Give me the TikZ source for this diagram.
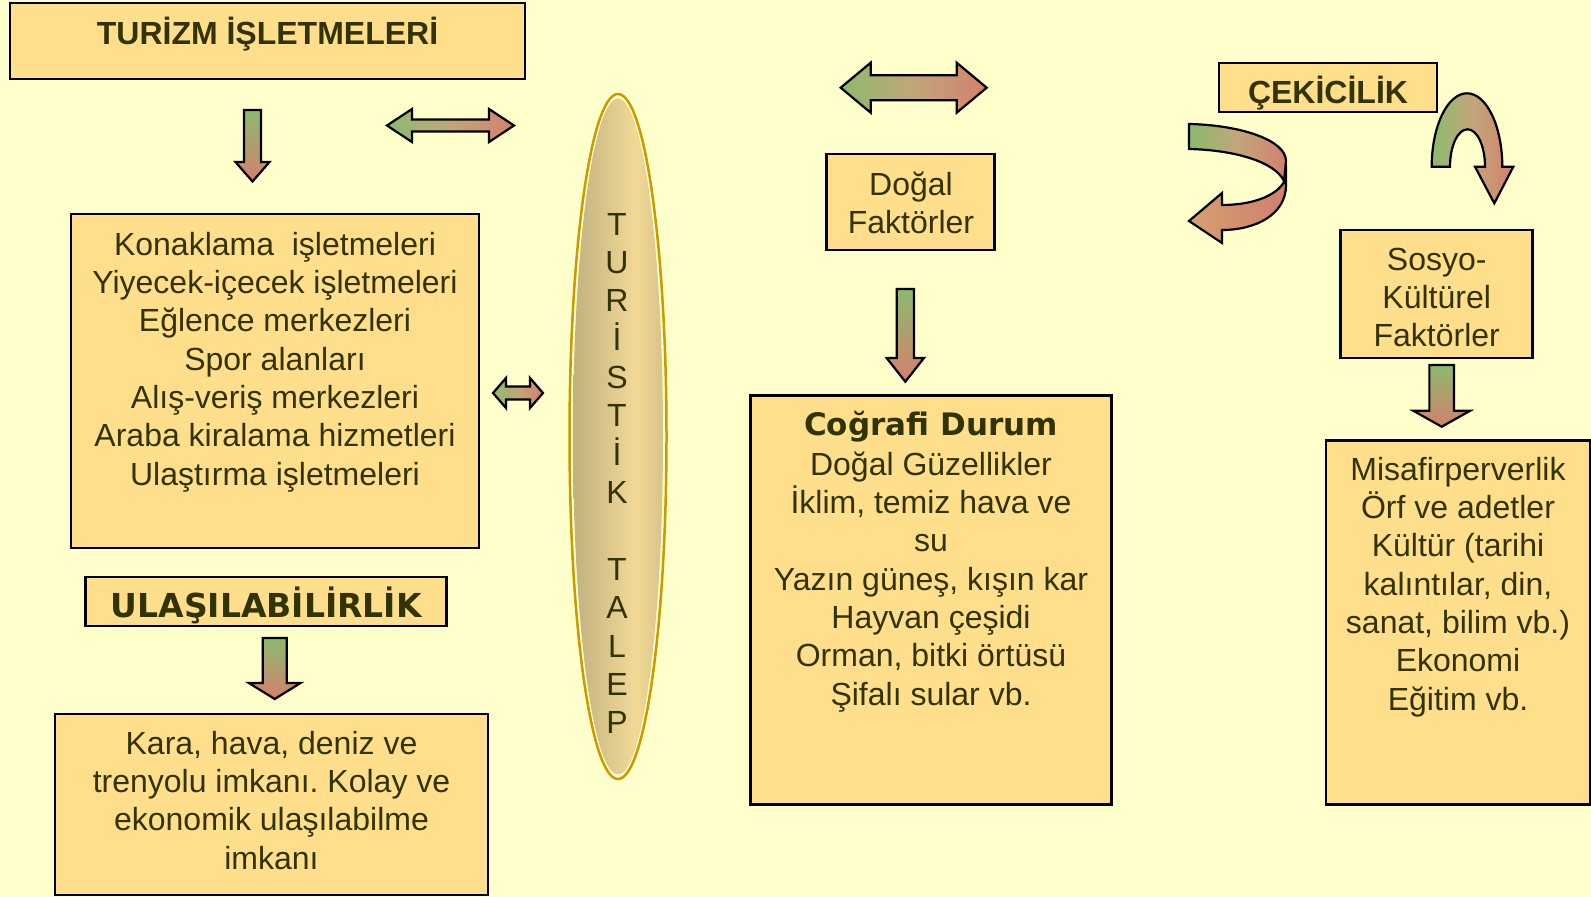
\documentclass[tikz,border=0pt]{standalone}
\usepackage{fontspec}
\setmainfont{Liberation Sans}
\newfontfamily\djv{DejaVu Sans}
\definecolor{bgc}{HTML}{FFFFCC}
\definecolor{boxfill}{HTML}{FFDE8C}
\definecolor{txtc}{HTML}{333300}
\definecolor{goldc}{HTML}{CC9900}
\definecolor{agreen}{HTML}{8CBA6E}
\definecolor{amid}{HTML}{C2A679}
\definecolor{asalmon}{HTML}{D4806E}
\definecolor{lsalA}{HTML}{D6A072}
\definecolor{lsalB}{HTML}{CF806E}
\definecolor{ellD}{HTML}{A89E76}
\definecolor{ellL}{HTML}{F2D995}
\definecolor{ellR}{HTML}{B8A87A}
\pgfdeclarehorizontalshading{ellsh}{100bp}{color(0bp)=(ellD); color(8bp)=(ellD); color(60bp)=(ellL); color(92bp)=(ellR); color(100bp)=(ellR)}
\newcommand\fstrut{\rule{0pt}{30pt}}
\newcommand\DownArr[6]{% cx, top, tip, shaft w, head w, head len
  \shadedraw[blockarr, top color=agreen, bottom color=asalmon]
  ({#1-#4/2},#2) -- ({#1+#4/2},#2) -- ({#1+#4/2},{#3-#6}) -- ({#1+#5/2},{#3-#6}) -- (#1,#3)
  -- ({#1-#5/2},{#3-#6}) -- ({#1-#4/2},{#3-#6}) -- cycle;}
\newcommand\DblArr[6]{% x1, x2, cy, shaft w, head w, head len
  \shadedraw[blockarr, left color=agreen, right color=asalmon, middle color=amid]
  (#1,#3) -- ({#1+#6},{#3-#5/2}) -- ({#1+#6},{#3-#4/2}) -- ({#2-#6},{#3-#4/2}) -- ({#2-#6},{#3-#5/2})
  -- (#2,#3) -- ({#2-#6},{#3+#5/2}) -- ({#2-#6},{#3+#4/2}) -- ({#1+#6},{#3+#4/2}) -- ({#1+#6},{#3+#5/2}) -- cycle;}
\frenchspacing
\begin{document}
\begin{tikzpicture}[x=1pt,y=-1pt,
  box/.style={draw=black, line width=2.5pt, fill=boxfill, inner sep=0pt, outer sep=0pt, anchor=north west},
  txt/.style={anchor=north, inner sep=0pt, align=center, text=txtc, font=\fontsize{32}{38.35}\selectfont\frenchspacing},
  ttl/.style={txt, font=\fontsize{32}{38.35}\selectfont\bfseries},
  ttlv/.style={txt, font=\djv\fontsize{33}{38.35}\selectfont\bfseries},
  blockarr/.style={draw=black, line width=2.2pt, line join=miter}]
\useasboundingbox (0,0) rectangle (1591,897);
\fill[bgc] (0,0) rectangle (1591,897);

% boxes
\node[box, minimum width=515pt, minimum height=76pt] (tbox) at (10,3) {};
\node[box, minimum width=408pt, minimum height=334pt] (lbox) at (71,214) {};
\node[box, minimum width=361pt, minimum height=49pt] (ubox) at (85.7,577) {};
\node[box, minimum width=433pt, minimum height=181pt] (kbox) at (55,714) {};
\node[box, minimum width=168pt, minimum height=96pt] (dbox) at (826.7,154) {};
\node[box, minimum width=361pt, minimum height=409pt] (cbox) at (750.7,395.7) {};
\node[box, minimum width=218pt, minimum height=49pt] (ekbox) at (1219,63) {};
\node[box, minimum width=192pt, minimum height=128pt] (sbox) at (1340.7,230) {};
\node[box, minimum width=264pt, minimum height=364pt] (mbox) at (1326,440.7) {};

% ellipse
\draw[goldc, line width=2.5pt] (618,436.5) ellipse [x radius=48.5, y radius=342.5];
\shade[shading=ellsh] (618,436.5) ellipse [x radius=45, y radius=338];

% texts
\node[ttl] (ttxt) at (267.5,14) {\fstrut TURİZM İŞLETMELERİ};
\node[txt] (ltxt) at (275,225) {\fstrut Konaklama\ \ işletmeleri\\Yiyecek-içecek işletmeleri\\Eğlence merkezleri\\Spor alanları\\Alış-veriş merkezleri\\Araba kiralama hizmetleri\\Ulaştırma işletmeleri};
\node[ttlv] (utxt) at (266.2,586.7) {\fstrut ULAŞILABİLİRLİK};
\node[txt] (ktxt) at (271.5,724) {\fstrut Kara, hava, deniz ve\\trenyolu imkanı. Kolay ve\\ekonomik ulaşılabilme\\imkanı};
\node[txt] (etxt) at (617,205) {\fstrut T\\U\\R\\İ\\S\\T\\İ\\K\\~\\T\\A\\L\\E\\P};
\node[txt] (dtxt) at (911,165) {\fstrut Doğal\\Faktörler};
\node[txt] (ctxt) at (931,405) {\fstrut{\djv\bfseries\fontsize{31}{38.35}\selectfont Coğrafi Durum}\\[1.5pt]Doğal Güzellikler\\İklim, temiz hava ve\\su\\Yazın güneş, kışın kar\\Hayvan çeşidi\\Orman, bitki örtüsü\\Şifalı sular vb.};
\node[ttl] (ektxt) at (1328,73) {\fstrut ÇEKİCİLİK};
\node[txt] (stxt) at (1436.7,240) {\fstrut Sosyo-\\Kültürel\\Faktörler};
\node[txt] (mtxt) at (1458,450) {\fstrut Misafirperverlik\\Örf ve adetler\\Kültür (tarihi\\kalıntılar, din,\\sanat, bilim vb.)\\Ekonomi\\Eğitim vb.};

% block arrows
\DownArr{252.5}{110}{181.5}{17}{34}{19.5}
\DblArr{387}{514}{125.5}{12}{33}{25}
\DblArr{493}{543}{393}{13}{30}{13}
\DownArr{274.7}{638}{699}{24}{51.7}{16}
\DblArr{840.7}{986.7}{87.7}{25}{50}{30}
\DownArr{905.3}{289}{381.7}{17.3}{37.3}{23.7}
\DownArr{1441.7}{365}{426.7}{24.7}{57}{16}

% curved arrow (left of Cekicilik)
\shadedraw[blockarr, left color=lsalA, right color=lsalB]
  (1286,165) -- (1286,185) .. controls (1286,215) and (1255,230) .. (1222,230)
  -- (1222,243) -- (1189,221) -- (1222,193) -- (1222,205)
  .. controls (1252,205) and (1276,196) .. (1284,182) -- cycle;
\shadedraw[blockarr, left color=agreen, right color=asalmon, middle color=amid]
  (1189,124) .. controls (1240,125) and (1286,140) .. (1286,161)
  -- (1284,181) .. controls (1275,162) and (1235,150) .. (1189,149) -- cycle;

% curved arrow (right of Cekicilik)
\shadedraw[blockarr, left color=agreen, right color=asalmon, middle color=amid]
  (1431.7,166.7) .. controls (1431.7,126.2) and (1447.5,93.3) .. (1467,93.3)
  .. controls (1486.5,93.3) and (1502.3,126.2) .. (1502.3,166.7)
  -- (1513.3,166.7) -- (1494.3,203.3) -- (1475,166.7) -- (1485,166.7)
  .. controls (1485,146) and (1477.2,129.3) .. (1467.5,129.3)
  .. controls (1457.8,129.3) and (1450,146) .. (1450,166.7) -- cycle;
\end{tikzpicture}
\end{document}
